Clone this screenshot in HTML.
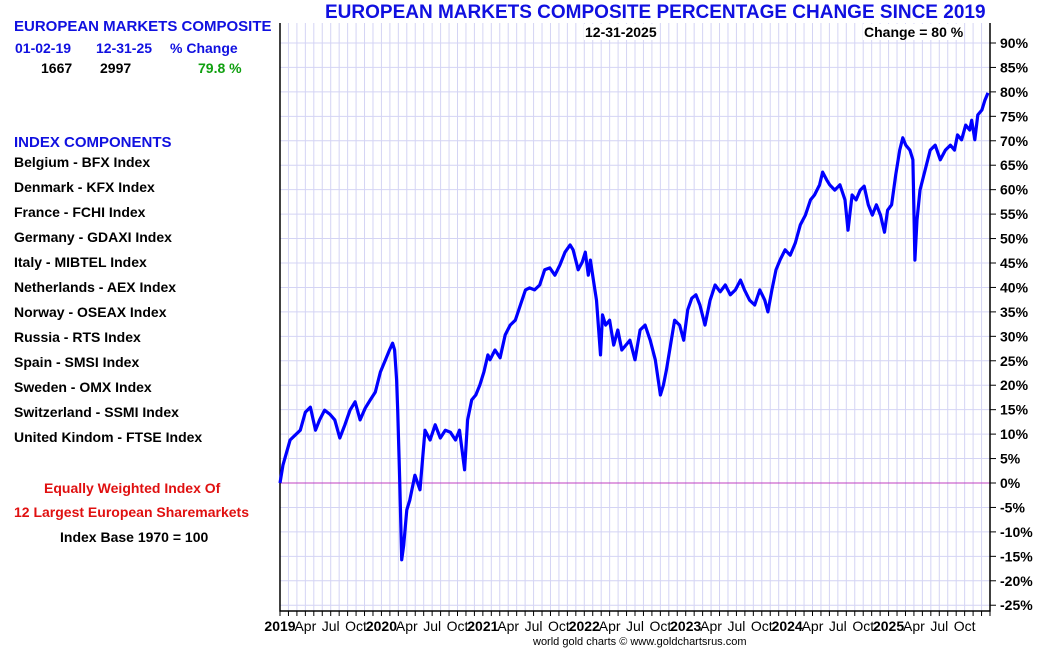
<!DOCTYPE html>
<html><head><meta charset="utf-8"><style>
body{margin:0;background:#fff;font-family:"Liberation Sans",sans-serif;}
#wrap{position:relative;width:1050px;height:650px;overflow:hidden;}
.t{position:absolute;font-weight:bold;white-space:nowrap;z-index:2;}
#svg{z-index:1;}
</style></head><body><div id="wrap">
<div class="t" style="left:14px;top:18px;font-size:15px;color:#1010e0">EUROPEAN MARKETS COMPOSITE</div>
<div class="t" style="left:15px;top:40px;font-size:14px;color:#1010e0">01-02-19</div>
<div class="t" style="left:96px;top:40px;font-size:14px;color:#1010e0">12-31-25</div>
<div class="t" style="left:170px;top:40px;font-size:14px;color:#1010e0">% Change</div>
<div class="t" style="left:41px;top:60px;font-size:14px;color:#000">1667</div>
<div class="t" style="left:100px;top:60px;font-size:14px;color:#000">2997</div>
<div class="t" style="left:198px;top:60px;font-size:14px;color:#10a010">79.8 %</div>
<div class="t" style="left:14px;top:134px;font-size:15px;color:#1010e0">INDEX COMPONENTS</div>
<div id="comps"></div>
<div class="t" style="left:44px;top:480px;font-size:14px;color:#e01010">Equally Weighted Index Of</div>
<div class="t" style="left:14px;top:504px;font-size:14px;color:#e01010">12 Largest European Sharemarkets</div>
<div class="t" style="left:60px;top:529px;font-size:14px;color:#000">Index Base 1970 = 100</div>
<div class="t" style="left:325px;top:2px;font-size:19px;color:#1010e0">EUROPEAN MARKETS COMPOSITE PERCENTAGE CHANGE SINCE 2019</div>
<div class="t" style="left:584px;top:24px;font-size:14px;color:#000;background:#fff;padding:0 1px">12-31-2025</div>
<div class="t" style="left:863px;top:24px;font-size:14px;color:#000;background:#fff;padding:0 1px">Change = 80 %</div>
<div class="t" style="left:533px;top:636px;font-size:11px;font-weight:normal;color:#000">world gold charts © www.goldchartsrus.com</div>
<svg id="svg" width="1050" height="650" style="position:absolute;left:0;top:0"></svg>
</div>
<script>
const components=["Belgium - BFX Index","Denmark - KFX Index","France - FCHI Index","Germany - GDAXI Index","Italy - MIBTEL Index","Netherlands - AEX Index","Norway - OSEAX Index","Russia - RTS Index","Spain - SMSI Index","Sweden - OMX Index","Switzerland - SSMI Index","United Kindom - FTSE Index"];
const yTicks=[-25,-20,-15,-10,-5,0,5,10,15,20,25,30,35,40,45,50,55,60,65,70,75,80,85,90];
const years=["2019","2020","2021","2022","2023","2024","2025"];
const months=["","","","Apr","","","Jul","","","Oct","",""];
// time in years since 2019-01-02
const t=[0,0.03,0.10,0.20,0.25,0.30,0.35,0.39,0.44,0.49,0.54,0.59,0.64,0.69,0.74,0.79,0.84,0.89,0.94,0.99,
1.04,1.08,1.11,1.13,1.15,1.16,1.18,1.20,1.22,1.25,1.28,1.33,1.38,1.43,1.48,1.53,1.58,1.63,1.68,1.73,1.77,1.82,1.85,1.89,1.93,1.97,
2.01,2.05,2.07,2.12,2.17,2.22,2.27,2.32,2.37,2.42,2.46,2.51,2.56,2.61,2.66,2.71,2.76,2.81,2.86,2.89,2.94,2.98,
3.01,3.04,3.06,3.09,3.12,3.16,3.18,3.21,3.25,3.29,3.33,3.37,3.41,3.45,3.50,3.55,3.60,3.65,3.70,3.75,3.78,3.81,3.85,3.89,3.94,3.98,
4.02,4.06,4.10,4.14,4.19,4.24,4.29,4.34,4.39,4.44,4.49,4.54,4.58,4.63,4.68,4.73,4.78,4.81,4.85,4.89,4.93,4.98,
5.03,5.08,5.13,5.18,5.23,5.27,5.32,5.35,5.39,5.42,5.47,5.52,5.57,5.60,5.64,5.68,5.72,5.76,5.80,5.84,5.88,5.92,5.96,5.99,
6.03,6.07,6.11,6.14,6.17,6.21,6.24,6.26,6.28,6.31,6.36,6.41,6.46,6.51,6.56,6.61,6.65,6.68,6.72,6.76,6.80,6.82,6.85,6.88,6.92,6.95,6.98];
const v=[0,3.7,8.8,10.8,14.5,15.5,10.8,12.9,14.9,14.1,12.9,9.2,11.9,14.9,16.6,12.9,15.3,17.0,18.6,22.7,
25.2,27.2,28.6,27.2,21.1,14.9,0.6,-15.7,-12.7,-5.5,-3.5,1.6,-1.4,10.8,8.8,11.9,9.2,10.8,10.4,8.8,10.8,2.7,12.9,17.0,18.0,20.0,
22.7,26.2,25.2,27.2,25.6,30.3,32.3,33.3,36.4,39.5,39.9,39.5,40.5,43.6,44.0,42.5,44.6,47.2,48.7,47.7,43.6,45.2,
47.2,42.5,45.6,41.5,37.4,26.2,34.4,32.3,33.3,28.2,31.3,27.2,28.2,29.2,25.2,31.3,32.3,29.2,25.2,18.0,20.0,23.1,28.2,33.3,32.3,29.2,
35.4,37.8,38.5,36.4,32.3,37.4,40.5,39.1,40.5,38.5,39.5,41.5,39.5,37.4,36.4,39.5,37.4,35.0,39.5,43.6,45.6,47.7,
46.6,49.1,52.8,54.8,57.9,58.9,61.0,63.6,62.0,61.0,59.9,61.0,57.9,51.7,58.9,57.9,59.9,60.7,56.9,54.8,56.9,54.8,51.3,55.8,
56.9,63.0,68.1,70.6,69.1,68.1,66.1,45.6,53.8,59.9,64.0,68.1,69.1,66.1,68.1,69.1,68.1,71.2,70.2,73.2,72.2,74.2,70.2,75.3,76.3,78.3,79.8];

const L=280,R=990,T=23,B=611;
const X=yr=>L+yr*(R-L)/7;
const Y=p=>483-p*4.889;
const NS="http://www.w3.org/2000/svg";
const svg=document.getElementById('svg');
function mk(tag,attrs,parent){const e=document.createElementNS(NS,tag);for(const k in attrs)e.setAttribute(k,attrs[k]);(parent||svg).appendChild(e);return e;}

const comps=document.getElementById('comps');
components.forEach((c,i)=>{const d=document.createElement('div');d.className='t';


d.style.cssText=`left:14px;top:${154+i*25}px;font-size:14px;color:#000`;d.textContent=c;comps.appendChild(d);});

for(let m=1;m<84;m++){const x=X(m/12);const g=mk('line',{x1:x,x2:x,y1:T,y2:B,stroke:'#d4d4f4','stroke-width':1});

}
yTicks.forEach(p=>{const y=Y(p);if(p!==0){const g=mk('line',{x1:L,x2:R,y1:y,y2:y,stroke:'#d4d4f4','stroke-width':1});

}
const tk=mk('line',{x1:R,x2:R+6,y1:y,y2:y,stroke:'#000','stroke-width':1});


const tx=mk('text',{x:R+10,y:y+5,'font-size':14,'font-weight':'bold','font-family':'Liberation Sans, sans-serif'});


tx.textContent=p+'%';});
const z=mk('line',{x1:L,x2:R,y1:Y(0),y2:Y(0),stroke:'#c040c0','stroke-width':1});


const f=mk('polyline',{points:`${L},${T} ${L},${B} ${R},${B} ${R},${T}`,fill:'none',stroke:'#000','stroke-width':1.5});


for(let m=0;m<=84;m++){const x=X(m/12);const tk=mk('line',{x1:x,x2:x,y1:B,y2:B+5,stroke:'#000','stroke-width':1});


if(m<84){let lab,bold=false;if(m%12===0){lab=years[m/12];bold=true;}else lab=months[m%12];
if(lab){const tx=mk('text',{x:x,y:B+20,'text-anchor':'middle','font-size':14,'font-weight':bold?'bold':'normal','font-family':'Liberation Sans, sans-serif'});


tx.textContent=lab;}}}
const pts=t.map((ti,i)=>X(ti).toFixed(1)+','+Y(v[i]).toFixed(1)).join(' ');
const line=mk('polyline',{points:pts,fill:'none',stroke:'#0000ff','stroke-width':3.2,'stroke-linejoin':'round'});


</script></body></html>
